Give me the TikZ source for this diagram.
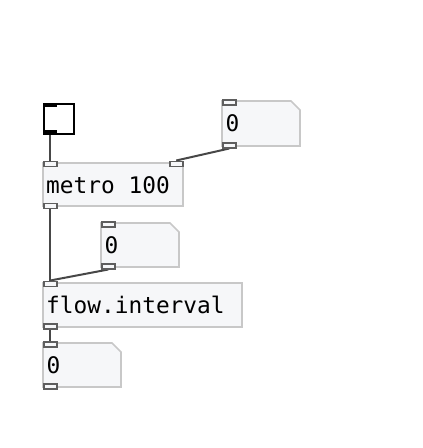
\documentclass[tikz,border=0pt]{standalone}
\usepackage{fontspec}
\setmonofont{DejaVu Sans Mono}
\usetikzlibrary{backgrounds}
\definecolor{boxfill}{HTML}{F6F7F9}
\definecolor{boxline}{HTML}{C8C8C8}
\definecolor{ioline}{HTML}{5E5E5E}
\definecolor{wirecol}{HTML}{474747}
\begin{document}
\begin{tikzpicture}[x=1pt,y=-1pt,
  numshape/.style={draw=boxline,fill=boxfill,line width=1.6pt},
  txt/.style={anchor=west,inner sep=0pt,font=\ttfamily\fontsize{22.8}{24}\selectfont},
  io/.style={draw=ioline,fill=boxfill,line width=1.5pt,rectangle,anchor=north west,inner sep=0pt,minimum width=13pt,minimum height=5pt},
  togbar/.style={fill=black,rectangle,anchor=north west,inner sep=0pt,minimum width=14pt,minimum height=4pt},
  wire/.style={draw=wirecol,line width=2pt}]
\useasboundingbox (0,0) rectangle (423,448);

% toggle
\draw[draw=black,fill=white,line width=2.3pt] (44,104) rectangle (74,134);
\node[togbar] (togin) at (43,103) {};
\node[togbar] (togout) at (43,130) {};

% metro 100
\draw[numshape] (43,163) rectangle (183,206);
\node[txt] (metrotxt) at (46,185) {metro 100};
\node[io] (metroinL) at (43,160.5) {};
\node[io] (metroinR) at (169,160.5) {};
\node[io] (metroout) at (43,202.5) {};

% number box top right
\draw[numshape] (222,101) -- (291,101) -- (300,110) -- (300,146) -- (222,146) -- cycle;
\node[txt] (num1) at (225.5,123.5) {0};
\node[io] (num1in) at (222,99) {};
\node[io] (num1out) at (222,142) {};

% number box middle
\draw[numshape] (101,223) -- (170,223) -- (179,232) -- (179,267) -- (101,267) -- cycle;
\node[txt] (num2) at (104.5,245) {0};
\node[io] (num2in) at (101,221) {};
\node[io] (num2out) at (101,263) {};

% flow.interval
\draw[numshape] (43,283) rectangle (242,327);
\node[txt] (flowtxt) at (46,305) {flow.interval};
\node[io] (flowin) at (43,280.5) {};
\node[io] (flowout) at (43,323) {};

% number box bottom
\draw[numshape] (43,343) -- (112,343) -- (121,352) -- (121,387) -- (43,387) -- cycle;
\node[txt] (num3) at (46.5,365) {0};
\node[io] (num3in) at (43,341) {};
\node[io] (num3out) at (43,383) {};

\begin{pgfonlayer}{background}
\draw[wire] (togout.south -| 50,0) -- (metroinL.north -| 50,0);
\draw[wire] (num1out.south) -- (metroinR.north);
\draw[wire] (metroout.south -| 50,0) -- (flowin.north -| 50,0);
\draw[wire] (num2out.south) -- (flowin.north);
\draw[wire] (flowout.south -| 50,0) -- (num3in.north -| 50,0);
\end{pgfonlayer}
\end{tikzpicture}
\end{document}
